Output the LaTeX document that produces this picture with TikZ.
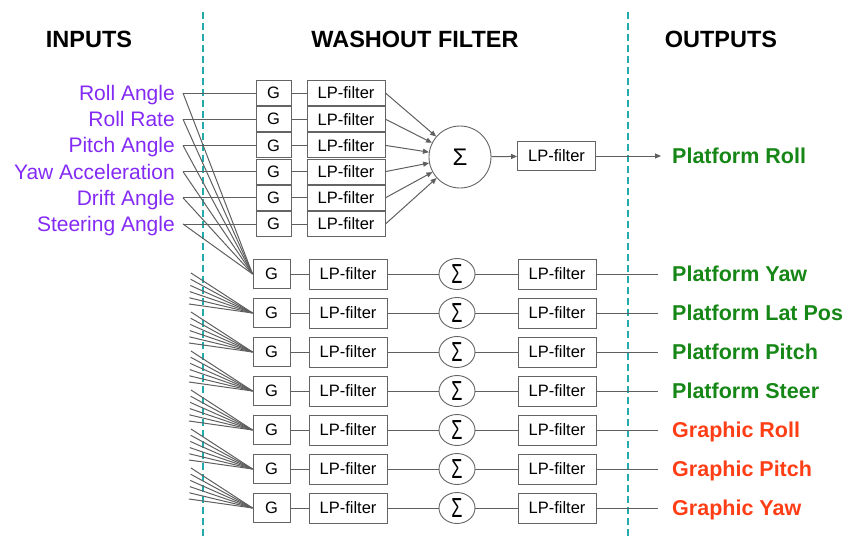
\documentclass[tikz,border=0pt]{standalone}
\usepackage{fontspec}
\usepackage{graphicx}
\setmainfont{Liberation Sans}
\usetikzlibrary{arrows.meta,shapes.geometric}
\definecolor{inpurple}{RGB}{132,42,245}
\definecolor{outgreen}{RGB}{22,135,22}
\definecolor{outred}{RGB}{255,62,22}
\definecolor{septeal}{RGB}{35,170,170}
\definecolor{boxgray}{RGB}{100,100,100}
\definecolor{wiregray}{RGB}{95,95,95}
\begin{document}
\begin{tikzpicture}[x=1pt,y=-1pt,
  box/.style={draw=boxgray, line width=0.9pt, inner sep=0pt, fill=white,
    font=\fontsize{16.5}{18}\selectfont},
  tgbox/.style={box, minimum width=35pt, minimum height=25pt},
  tlpbox/.style={box, minimum width=78pt, minimum height=25pt},
  lgbox/.style={box, minimum width=37pt, minimum height=29pt},
  lpbox/.style={box, minimum width=78pt, minimum height=30pt},
  bigsumnode/.style={draw=boxgray, line width=0.9pt, circle, inner sep=0pt,
    minimum size=62pt, font=\fontsize{24}{26}\selectfont},
  smallsum/.style={draw=boxgray, line width=0.9pt, ellipse, inner sep=0pt,
    minimum width=36pt, minimum height=31pt, font=\fontsize{19}{21}\selectfont},
  wire/.style={draw=wiregray, line width=1pt},
  arrowwire/.style={wire, -{Triangle[length=6pt,width=5pt]}},
  header/.style={font=\fontsize{23.5}{25}\selectfont\bfseries, inner sep=0pt},
  inlabel/.style={font=\fontsize{21}{23}\selectfont, text=inpurple, inner sep=0pt},
  outlabel/.style={font=\fontsize{21.5}{23}\selectfont\bfseries, inner sep=0pt},
  sepline/.style={draw=septeal, line width=1.5pt, dash pattern=on 7pt off 4pt}
]
\useasboundingbox (0,0) rectangle (857,536);

% separators
\coordinate (s1t) at (203,12);
\coordinate (s1b) at (203,536);
\coordinate (s2t) at (628,12);
\coordinate (s2b) at (628,536);
\draw[sepline] (s1t) -- (s1b);
\draw[sepline] (s2t) -- (s2b);

% headers
\node[header, anchor=base] (hin) at (89,47.5) {INPUTS};
\node[header, anchor=base] (hwf) at (415,47.5) {WASHOUT FILTER};
\node[header, anchor=base] (hout) at (721,47.5) {OUTPUTS};

% big summation and its output
\node[bigsumnode] (bigsum) at (460,157) {Σ};
\node[tlpbox, minimum height=29pt] (biglp) at (556.5,156) {LP-filter};
\coordinate (bigend) at (661,156);
\draw[arrowwire] (bigsum) -- (biglp);
\draw[arrowwire] (biglp) -- (bigend);
\node[outlabel, text=outgreen, anchor=base west] (outroll) at (672,163.7) {Platform Roll};

% top block
\foreach \i/\t in {0/Roll Angle,1/Roll Rate,2/Pitch Angle,3/Yaw Acceleration,4/Drift Angle,5/Steering Angle}{
  \pgfmathsetmacro\yy{93+26.2*\i}
  \node[inlabel, anchor=base east] (in\i) at (175,\yy+7.5) {\t};
  \coordinate (src\i) at (183,\yy);
  \node[tgbox] (tg\i) at (273.5,\yy) {G};
  \node[tlpbox] (tl\i) at (346,\yy) {LP-filter};
  \draw[wire] (src\i) -- (tg\i.west);
  \draw[wire] (tg\i) -- (tl\i);
  \draw[arrowwire] (tl\i.east) -- (bigsum);
}

% lower rows
\foreach \k/\t/\c in {0/Platform Yaw/outgreen,1/Platform Lat Pos/outgreen,2/Platform Pitch/outgreen,3/Platform Steer/outgreen,4/Graphic Roll/outred,5/Graphic Pitch/outred,6/Graphic Yaw/outred}{
  \pgfmathsetmacro\yy{274+39*\k}
  \node[lgbox] (lg\k) at (271.5,\yy) {G};
  \node[lpbox] (ll\k) at (348,\yy) {LP-filter};
  \node[smallsum] (ls\k) at (457,\yy) {\raisebox{-0.5ex}{\scalebox{0.95}[1.45]{Σ}}};
  \node[lpbox] (lr\k) at (557,\yy) {LP-filter};
  \coordinate (oe\k) at (658,\yy);
  \node[outlabel, text=\c, anchor=base west] (out\k) at (672,\yy+7.7) {\t};
  \draw[wire] (lg\k) -- (ll\k);
  \draw[wire] (ll\k) -- (ls\k);
  \draw[wire] (ls\k) -- (lr\k);
  \draw[wire] (lr\k) -- (oe\k);
}

% fan into first lower row from the inputs
\foreach \i in {0,...,5}{
  \draw[wire] (src\i) -- (lg0.west);
}
% fan stubs for the other rows
\foreach \k in {1,...,6}{
  \pgfmathsetmacro\yy{274+39*\k}
  \foreach \i in {0,...,5}{
    \coordinate (f\k-\i) at (191-\i*0.4,\yy-40+6.2*\i);
    \draw[wire] (f\k-\i) -- (lg\k.west);
  }
}
\end{tikzpicture}
\end{document}
